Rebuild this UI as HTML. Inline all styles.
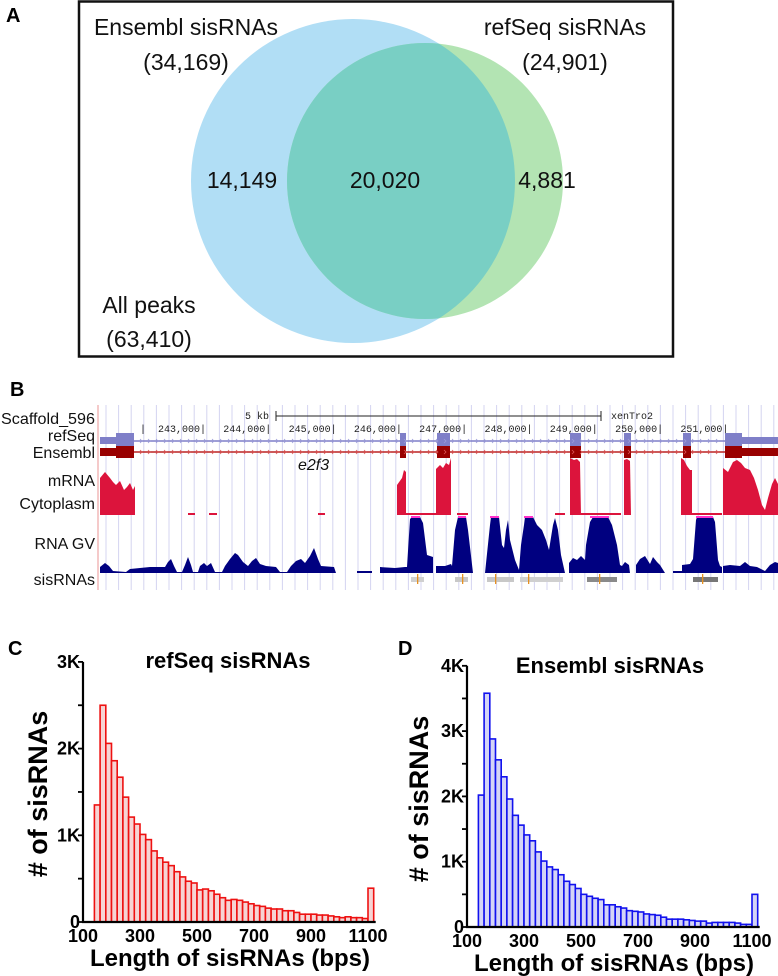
<!DOCTYPE html>
<html><head><meta charset="utf-8"><style>
html,body{margin:0;padding:0;background:#fff;}
svg{display:block;}
text{font-family:"Liberation Sans",sans-serif;}
.b{font-weight:bold;}
</style></head><body>
<svg id="s" width="778" height="976" viewBox="0 0 778 976" xmlns="http://www.w3.org/2000/svg">
<!-- Panel A -->
<text x="6" y="22" class="b" font-size="20">A</text>
<rect x="79" y="1.5" width="594" height="355" fill="none" stroke="#111" stroke-width="2.5"/>
<circle cx="353" cy="181" r="162" fill="#b1def5"/>
<circle cx="425" cy="181" r="138" fill="#b3e4b3"/>
<clipPath id="cb"><circle cx="353" cy="181" r="162"/></clipPath>
<circle cx="425" cy="181" r="138" fill="#79cfc4" clip-path="url(#cb)"/>
<g font-size="23" fill="#111" text-anchor="middle">
<text x="186" y="35">Ensembl sisRNAs</text>
<text x="186" y="70">(34,169)</text>
<text x="565" y="35">refSeq sisRNAs</text>
<text x="565" y="70">(24,901)</text>
<text x="242" y="188">14,149</text>
<text x="385" y="188">20,020</text>
<text x="547" y="188">4,881</text>
<text x="149" y="313">All peaks</text>
<text x="149" y="347">(63,410)</text>
</g>
<!-- Panel B -->
<text x="10" y="396" class="b" font-size="20">B</text>
<g id="grid" stroke="#d4d4f0" stroke-width="1"></g>
<line x1="98" y1="405" x2="98" y2="590" stroke="#f2b8b8" stroke-width="1.5"/>
<g font-size="16" fill="#111" text-anchor="end">
<text x="95" y="424" textLength="94" lengthAdjust="spacingAndGlyphs">Scaffold_596</text>
<text x="95" y="441">refSeq</text>
<text x="95" y="458">Ensembl</text>
<text x="95" y="486">mRNA</text>
<text x="95" y="509">Cytoplasm</text>
<text x="95" y="549">RNA GV</text>
<text x="95" y="585">sisRNAs</text>
</g>
<g font-size="10" fill="#222">
<text x="245" y="419" style="font-family:'Liberation Mono',monospace">5 kb</text>
<text x="611" y="419" style="font-family:'Liberation Mono',monospace">xenTro2</text>
</g>
<line x1="276" y1="416" x2="601" y2="416" stroke="#222" stroke-width="1"/>
<line x1="276" y1="411" x2="276" y2="421" stroke="#222"/>
<line x1="601" y1="411" x2="601" y2="421" stroke="#222"/>
<g id="coords" font-size="10" fill="#222"></g>
<line x1="100" y1="441" x2="778" y2="441" stroke="#7f7fc8" stroke-width="1.5"/>
<line x1="100" y1="452" x2="778" y2="452" stroke="#bb2222" stroke-width="1.5"/>
<g id="exons"></g>
<text x="298" y="470" font-size="16" font-style="italic" fill="#111">e2f3</text>
<g fill="#dc143c">
<polygon points="100,515 100,478 105,472 110,478 113,482 116,485 120,481 124,490 127,487 130,483 133,490 135,486 135,515"/>
<polygon points="397,515 397,485 402,478 404,470 406,472 406,515"/>
<polygon points="436,515 436,469 440,465 443,468 446,463 449,465 451,458 451,515"/>
<polygon points="570,515 570,458 574,460 577,459 580,462 581,515"/>
<polygon points="624,515 624,460 627,459 630,461 631,515"/>
<polygon points="681,515 681,458 684,460 687,466 690,470 692,470 692,515"/>
<polygon points="723,515 723,468 728,472 733,462 737,460 741,463 745,468 750,470 754,478 758,490 762,505 765,510 768,498 772,484 775,478 778,484 778,515"/>
<rect x="406" y="513" width="30" height="2"/>
<rect x="457" y="513" width="11" height="2"/>
<rect x="555" y="513" width="10" height="2"/>
<rect x="581" y="513" width="40" height="2"/>
<rect x="692" y="513" width="30" height="2"/>
<rect x="188" y="513" width="7" height="2"/>
<rect x="209" y="513" width="8" height="2"/>
<rect x="318" y="513" width="7" height="2"/>
</g>
<g fill="#000080">
<polygon points="100,573 100,567 105,563 109,566 113,571 126,572 130,569 140,568 150,567 165,567 168,562 171,559 174,566 177,572 182,572 185,565 188,557 191,565 193,572 198,572 200,566 204,563 207,566 211,563 215,572 222,572 225,566 230,559 235,553 238,555 243,562 248,566 252,561 256,558 260,564 266,566 276,567 280,572 287,572 291,566 296,561 301,559 305,563 310,556 314,548 318,559 321,566 334,567 336,573"/>
<rect x="357" y="571" width="15" height="2"/>
<polygon points="380,573 380,567 395,568 405,567 407,567 410,519 412,517 420,517 423,523 427,555 430,556 433,557 433,573"/>
<polygon points="436,573 436,566 445,566 451,564 452,566 455,530 458,517 466,517 468,530 473,573"/>
<polygon points="485,573 490,525 491,517 499,517 502,545 504,548 506,530 508,520 510,540 515,560 519,570 521,545 524,525 525,517 533,517 537,525 542,530 546,540 549,550 553,525 555,518 558,530 561,555 565,573"/>
<polygon points="569,573 569,563 573,558 577,560 581,556 585,560 586,545 590,522 593,517 608,517 612,525 617,545 620,565 622,566 625,562 629,565 630,573"/>
<polygon points="636,573 636,565 640,559 645,556 650,564 653,557 657,562 660,565 665,573"/>
<rect x="673" y="571" width="9" height="2"/>
<polygon points="682,573 682,565 690,564 693,559 696,520 697,517 713,517 715,522 718,560 720,566 722,567 722,573"/>
<polygon points="723,573 723,566 730,565 740,566 745,562 750,566 757,567 765,571 770,565 775,562 778,563 778,573"/>
</g>
<g fill="#ff33cc">
<rect x="411" y="516" width="9" height="2"/><rect x="458" y="516" width="8" height="2"/>
<rect x="490" y="516" width="9" height="2"/><rect x="524" y="516" width="9" height="2"/>
<rect x="590" y="516" width="19" height="2"/><rect x="696" y="516" width="17" height="2"/>
</g>
<g>
<rect x="411" y="577" width="13" height="5" fill="#d0d0d0"/>
<rect x="455" y="577" width="13" height="5" fill="#c8c8c8"/>
<rect x="487" y="577" width="27" height="5" fill="#c8c8c8"/>
<rect x="520" y="577" width="43" height="5" fill="#d0d0d0"/>
<rect x="587" y="577" width="30" height="5" fill="#8a8a8a"/>
<rect x="693" y="577" width="25" height="5" fill="#777"/>
<g fill="#e69020"><rect x="417" y="574" width="1.3" height="10"/><rect x="462" y="574" width="1.3" height="10"/><rect x="495" y="574" width="1.3" height="10"/><rect x="528" y="574" width="1.3" height="10"/><rect x="599" y="574" width="1.3" height="10"/><rect x="702" y="574" width="1.3" height="10"/></g>
</g>
<text x="8" y="655" class="b" font-size="20">C</text>
<text x="398" y="655" class="b" font-size="20">D</text>
<g id="hist"></g>
</svg>
<script>
var NS="http://www.w3.org/2000/svg";
function el(p,t,a,txt){var e=document.createElementNS(NS,t);for(var k in a)e.setAttribute(k,a[k]);if(txt!==undefined)e.textContent=txt;p.appendChild(e);return e;}
var g=document.getElementById('grid');
for(var x=106;x<778;x+=12.6){el(g,'line',{x1:x.toFixed(1),y1:405,x2:x.toFixed(1),y2:590});}
var c=document.getElementById('coords');
el(c,'text',{x:140,y:432,style:"font-family:'Liberation Mono',monospace"},'|');
var labs=['243,000|','244,000|','245,000|','246,000|','247,000|','248,000|','249,000|','250,000|','251,000|'];
for(var i=0;i<labs.length;i++){el(c,'text',{x:206+65.3*i,y:432,'text-anchor':'end',style:"font-family:'Liberation Mono',monospace"},labs[i]);}
var ex=document.getElementById('exons');
var exs=[[116,134],[400,406],[437,450],[570,581],[624,631],[683,691],[725,742]];
el(ex,'rect',{x:100,y:437,width:16,height:7,fill:'#7f7fc8'});
el(ex,'rect',{x:100,y:448,width:16,height:8,fill:'#990000'});
el(ex,'rect',{x:742,y:437,width:36,height:7,fill:'#7f7fc8'});
el(ex,'rect',{x:742,y:448,width:36,height:8,fill:'#990000'});
exs.forEach(function(e){el(ex,'rect',{x:e[0],y:433,width:e[1]-e[0],height:13,fill:'#7f7fc8'});el(ex,'rect',{x:e[0],y:446,width:e[1]-e[0],height:12,fill:'#990000'});});
for(var x=140;x<720;x+=8){el(ex,'path',{d:'M'+x+' 439 l2 2 l-2 2',stroke:'#9a9ad8',fill:'none','stroke-width':0.8});el(ex,'path',{d:'M'+x+' 450 l2 2 l-2 2',stroke:'#dd5555',fill:'none','stroke-width':0.8});}
var H=document.getElementById('hist');
function hist(ax,y0,perK,maxK,data,last,stroke,fill,title,tx,ylx){
 var sc=0.285;
 for(var i=0;i<data.length;i++){var b=140+20*i;var h=data[i]/1000*perK;el(H,'rect',{x:(ax+(b-100)*sc).toFixed(2),y:(y0-h).toFixed(2),width:(20*sc).toFixed(2),height:h.toFixed(2),fill:fill,stroke:stroke,'stroke-width':1.6});}
 var h=last/1000*perK;el(H,'rect',{x:(ax+1000*sc).toFixed(2),y:(y0-h).toFixed(2),width:(20*sc).toFixed(2),height:h.toFixed(2),fill:fill,stroke:stroke,'stroke-width':1.6});
 el(H,'line',{x1:ax,y1:y0-maxK*perK,x2:ax,y2:y0+1,stroke:'#000','stroke-width':2.2});
 el(H,'line',{x1:ax-1,y1:y0,x2:ax+1020*sc+2,y2:y0,stroke:'#000','stroke-width':2.2});
 for(var k=0;k<=maxK*2;k++){var yy=y0-k*perK/2;el(H,'line',{x1:ax-5,y1:yy,x2:ax,y2:yy,stroke:'#000','stroke-width':1.8});
  if(k%2==0)el(H,'text',{x:ax-3,y:yy+6,'text-anchor':'end','font-size':18,'font-weight':'bold'},k==0?'0':(k/2)+'K');}
 for(var v=100;v<=1100;v+=200){el(H,'text',{x:ax+(v-100)*sc,y:y0+20,'text-anchor':'middle','font-size':18,'font-weight':'bold'},String(v));}
 el(H,'text',{x:ax+147,y:y0+44,'text-anchor':'middle','font-size':24,'font-weight':'bold'},'Length of sisRNAs (bps)');
 el(H,'text',{x:tx,y:y0-254,'text-anchor':'middle','font-size':22,'font-weight':'bold'},title);
 el(H,'text',{x:0,y:0,'text-anchor':'middle','font-size':27,'font-weight':'bold',transform:'translate('+ylx+','+(y0-128)+') rotate(-90)'},'# of sisRNAs');
}
var C=[1350,2500,2060,1860,1670,1440,1210,1130,1010,950,820,740,690,650,580,520,470,450,370,380,360,320,280,250,260,250,230,210,190,180,160,150,150,130,130,110,90,90,90,80,80,70,60,50,60,50,50,40,40];
var D=[2020,3580,2880,2560,2300,1960,1710,1560,1410,1320,1150,1010,920,880,800,700,650,590,500,470,440,420,340,340,310,290,250,240,230,200,190,180,150,120,120,120,110,100,90,90,60,70,70,70,70,60,40,40,30];
hist(83,922,86.7,3,C,390,'#ee1111','#f6d4d4','refSeq sisRNAs',228,47);
hist(467,927,65.3,4,D,500,'#1111ee','#d4d4f6','Ensembl sisRNAs',610,428);
</script>
</body></html>
